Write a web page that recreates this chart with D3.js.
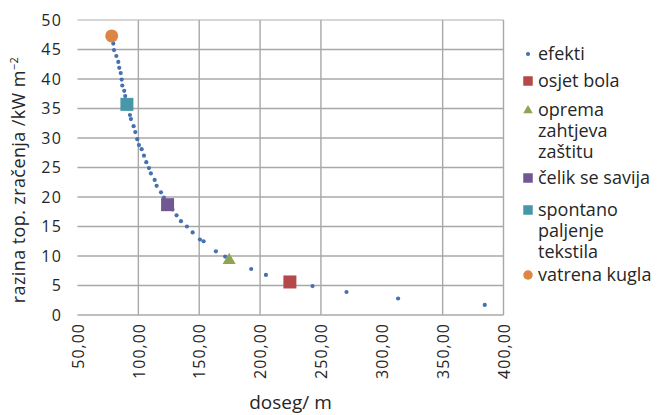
<!DOCTYPE html>
<html>
<head>
<meta charset="utf-8">
<script src="https://cdn.jsdelivr.net/npm/d3@7"></script>
<style>
body { margin: 0; background: #fff; }
text { font-family: "Open Sans", Lato, sans-serif; fill: #262626; }
</style>
</head>
<body>
<svg id="chart"></svg>
<script>
// efekti
var efektiX = [79.4, 80.0, 81.9, 83.5, 84.3, 85.5, 86.3, 86.8, 88.4, 89.2, 93.1, 93.9, 96.1, 97.5,
  99.1, 100.5, 102.7, 104.6, 106.5, 108.7, 110.3, 113.4, 115.0, 118.6, 121.0, 128.0, 131.4, 135.0,
  139.9, 144.6, 150.6, 153.6, 163.7, 171.3, 192.7, 204.8, 243.1, 271.0, 313.4, 384.6];
var efektiY = [46.0, 44.9, 43.9, 42.9, 41.9, 41.0, 39.9, 38.9, 38.0, 37.1, 33.9, 33.2, 32.0, 31.0,
  29.8, 28.8, 28.1, 27.0, 25.9, 24.9, 24.0, 22.9, 21.9, 20.8, 19.9, 17.9, 16.9, 15.9,
  15.0, 14.0, 12.8, 12.5, 10.8, 9.9, 7.8, 6.8, 4.9, 3.9, 2.8, 1.7];

// named effects
var effectNames = ["osjet bola", "oprema zahtjeva zaštitu", "čelik se savija", "spontano paljenje tekstila", "vatrena kugla"];
var effectX = [224.5, 174.6, 124.0, 90.6, 78.1];
var effectY = [5.6, 9.4, 18.7, 35.7, 47.3];
var effectShape = ["square", "triangle", "square", "square", "circle"];
var effectColor = ["#b5494a", "#8fa452", "#715893", "#4796a9", "#dd8447"];

// legend rows (wrapped like the original)
var legendLines = [["efekti"], ["osjet bola"], ["oprema", "zahtjeva", "zaštitu"], ["čelik se savija"],
  ["spontano", "paljenje", "tekstila"], ["vatrena kugla"]];

var xTicks = [50, 100, 150, 200, 250, 300, 350, 400];
var yTicks = [0, 5, 10, 15, 20, 25, 30, 35, 40, 45, 50];
var xGrid = [100, 150, 200, 250, 350, 400]; // no line at 300 in the original

var W = 660, H = 415;
var svg = d3.select("#chart").attr("width", W).attr("height", H);

var x = d3.scaleLinear().domain([50, 400]).range([77.5, 503.5]);
var y = d3.scaleLinear().domain([0, 50]).range([315, 20]);

var gridColor = "#a8a8a8";

// horizontal grid
svg.append("g").selectAll("line").data(yTicks).enter().append("line")
  .attr("x1", x(50)).attr("x2", x(400))
  .attr("y1", function(d){ return y(d); }).attr("y2", function(d){ return y(d); })
  .attr("stroke", function(d){ return d == 50 ? "#c8c8c8" : gridColor; })
  .attr("stroke-width", 1.4);

// vertical grid
svg.append("g").selectAll("line").data(xGrid).enter().append("line")
  .attr("x1", function(d){ return x(d); }).attr("x2", function(d){ return x(d); })
  .attr("y1", y(50)).attr("y2", y(0))
  .attr("stroke", gridColor).attr("stroke-width", 1.4);

// y axis labels
var yAxis = d3.axisLeft(y).tickValues(yTicks).tickSize(0).tickPadding(15);
var yG = svg.append("g").attr("transform", "translate(" + x(50) + ",0)").call(yAxis);
yG.select(".domain").remove();
yG.selectAll("text").style("font-family", "'Open Sans', sans-serif").style("font-size", "16px")
  .style("letter-spacing", "1.5px").attr("fill", "#262626");

// x axis labels (rotated)
var xAxis = d3.axisBottom(x).tickValues(xTicks).tickSize(0)
  .tickFormat(function(d){ return d3.format(".2f")(d).replace(".", ","); });
var xG = svg.append("g").attr("transform", "translate(0," + y(0) + ")").call(xAxis);
xG.select(".domain").remove();
xG.selectAll("text")
  .attr("transform", "rotate(-90)")
  .attr("text-anchor", "end")
  .attr("x", -8).attr("y", 0).attr("dy", "0.36em")
  .style("font-family", "'Open Sans', sans-serif").style("font-size", "16px")
  .style("letter-spacing", "1px").attr("fill", "#262626");

// axis titles
svg.append("text")
  .attr("x", x(225)).attr("y", 409)
  .attr("text-anchor", "middle")
  .style("font-size", "19px")
  .text("doseg/ m");

var yt = svg.append("text")
  .attr("transform", "translate(25," + 180 + ") rotate(-90)")
  .attr("text-anchor", "middle")
  .style("font-size", "18px")
  .style("letter-spacing", "0.4px");
yt.append("tspan").text("razina top. zračenja /kW m");
yt.append("tspan").attr("dy", -7).style("font-size", "11px").text("−2");

// efekti points
svg.append("g").selectAll("circle").data(efektiX).enter().append("circle")
  .attr("cx", function(d){ return x(d); })
  .attr("cy", function(d, i){ return y(efektiY[i]); })
  .attr("r", 2.1)
  .attr("fill", "#4670b0");

// marker drawing helper
var drawMarker = function(g, shape, color, cx, cy, s)
{
  if(shape == "square")
  {
    g.append("rect").attr("x", cx - s/2).attr("y", cy - s/2)
      .attr("width", s).attr("height", s).attr("fill", color);
  }
  else if(shape == "circle")
  {
    g.append("circle").attr("cx", cx).attr("cy", cy).attr("r", s/2).attr("fill", color);
  }
  else
  {
    var h = s * 0.87;
    g.append("path")
      .attr("d", "M" + cx + "," + (cy - h*0.6) + "L" + (cx + s/2) + "," + (cy + h*0.4) + "L" + (cx - s/2) + "," + (cy + h*0.4) + "Z")
      .attr("fill", color);
  }
};

var markG = svg.append("g");
effectX.forEach(function(d, i)
{
  drawMarker(markG, effectShape[i], effectColor[i], x(d), y(effectY[i]), 13);
});

// legend
var leg = svg.append("g");
var rowTop = [54, 81, 110, 178, 210, 275];
legendLines.forEach(function(lines, i)
{
  var cy = rowTop[i];
  if(i == 0)
  {
    leg.append("circle").attr("cx", 528).attr("cy", cy).attr("r", 2.1).attr("fill", "#4670b0");
  }
  else
  {
    drawMarker(leg, effectShape[i-1], effectColor[i-1], 528, cy, 9.5);
  }
  // one text per entry, wrapped lines as tspans
  var t = leg.append("text")
    .attr("x", 538).attr("y", cy + 6)
    .style("font-size", "18px");
  lines.forEach(function(s, j)
  {
    t.append("tspan").attr("x", 538).attr("dy", j == 0 ? 0 : 21).text(s);
  });
});
</script>
</body>
</html>
